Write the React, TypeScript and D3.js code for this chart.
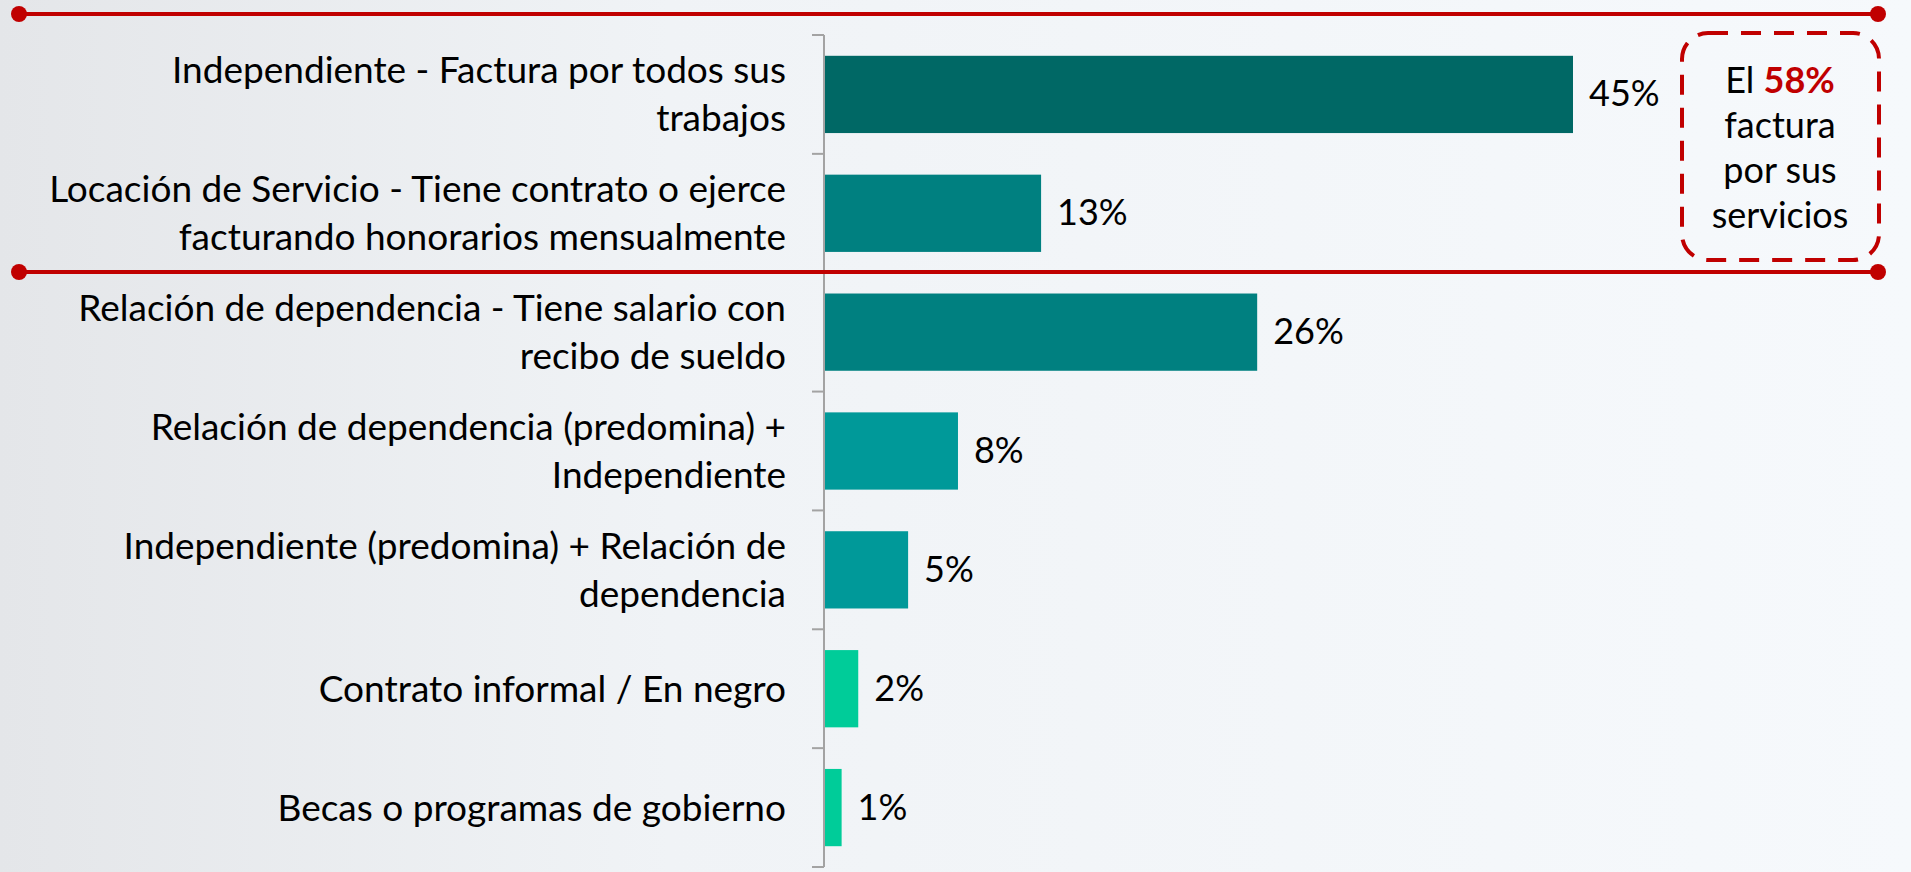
import React from 'react';
import * as d3 from 'd3';

// chart data
const categories = [
    'Independiente - Factura por todos sus\ntrabajos',
    'Locación de Servicio - Tiene contrato o ejerce\nfacturando honorarios mensualmente',
    'Relación de dependencia - Tiene salario con\nrecibo de sueldo',
    'Relación de dependencia (predomina) +\nIndependiente',
    'Independiente (predomina) + Relación de\ndependencia',
    'Contrato informal / En negro',
    'Becas o programas de gobierno',
];
const values = [45, 13, 26, 8, 5, 2, 1];
const barColors = ['#006865', '#008080', '#008080', '#009999', '#009999', '#00CC99', '#00CC99'];
const calloutLines = ['factura', 'por sus', 'servicios'];
const calloutPct = '58%';

const W = 1911, H = 872;
const margins = { left: 824, top: 35, bottom: 5, right: 0 };
const RED = '#C00000';
const FONT = 'Lato, "Open Sans", sans-serif';

const Axis = ({ yScale, x0 }) => {
    const ticks = yScale.domain().map(d => yScale(d) - yScale.step() * yScale.paddingInner() / 2);
    const [r0, r1] = yScale.range();
    return (
        <g stroke="#a3a3a3" strokeWidth={2}>
            <line x1={x0} x2={x0} y1={r0} y2={r1} />
            {ticks.concat([r1]).map((t, i) => (
                <line key={i} x1={x0 - 12} x2={x0} y1={t} y2={t} />
            ))}
        </g>
    );
};

const RedRule = ({ y }) => (
    <g fill={RED}>
        <line x1={19} x2={1878} y1={y} y2={y} stroke={RED} strokeWidth={4} />
        <circle cx={19} cy={y} r={8} />
        <circle cx={1878} cy={y} r={8} />
    </g>
);

const App = () => {
    const idx = categories.map((c, i) => i);

    const yScale = d3.scaleBand()
        .domain(idx)
        .range([margins.top, H - margins.bottom])
        .paddingInner(0.35)
        .paddingOuter(0.175);

    const xScale = d3.scaleLinear()
        .domain([0, 45])
        .range([margins.left, 1572]);

    const bw = yScale.bandwidth();

    return (
        <svg width={W} height={H} style={{ position: 'absolute', left: 0, top: 0 }} fontFamily={FONT}>
            <defs>
                <linearGradient id="bg" x1="0" x2="1" y1="0" y2="0">
                    <stop offset="0" stopColor="#e4e6e9" />
                    <stop offset="0.35" stopColor="#f0f3f6" />
                    <stop offset="1" stopColor="#f6f9fc" />
                </linearGradient>
            </defs>
            <rect width={W} height={H} fill="url(#bg)" />

            <Axis yScale={yScale} x0={margins.left} />

            {values.map((v, i) => (
                <rect key={i} x={xScale(0) + 1} y={yScale(i)} width={xScale(v) - xScale(0)} height={bw} fill={barColors[i]} />
            ))}

            {values.map((v, i) => (
                <text key={i} x={xScale(v) + 17} y={yScale(i) + bw / 2 + 12} fontSize={36} fill="#000">{v}%</text>
            ))}

            {categories.map((c, i) => {
                const lines = c.split('\n');
                const cy = yScale(i) + bw / 2;
                return (
                    <text key={i} textAnchor="end" fontSize={37} fill="#000">
                        {lines.map((l, j) => (
                            <tspan key={j} x={786} y={cy + (j - (lines.length - 1) / 2) * 48 + 13}>{l}</tspan>
                        ))}
                    </text>
                );
            })}

            <RedRule y={14} />
            <RedRule y={272} />

            <rect x={1682} y={33} width={197} height={227} rx={26} ry={26} fill="none"
                stroke={RED} strokeWidth={4} strokeDasharray="20 13" />
            <text textAnchor="middle" fontSize={36} fill="#000">
                <tspan x={1780} y={93}>El <tspan fill={RED} fontWeight="bold">{calloutPct}</tspan></tspan>
                {calloutLines.map((l, j) => (
                    <tspan key={j} x={1780} y={138 + j * 45}>{l}</tspan>
                ))}
            </text>
        </svg>
    );
};

export default App;
